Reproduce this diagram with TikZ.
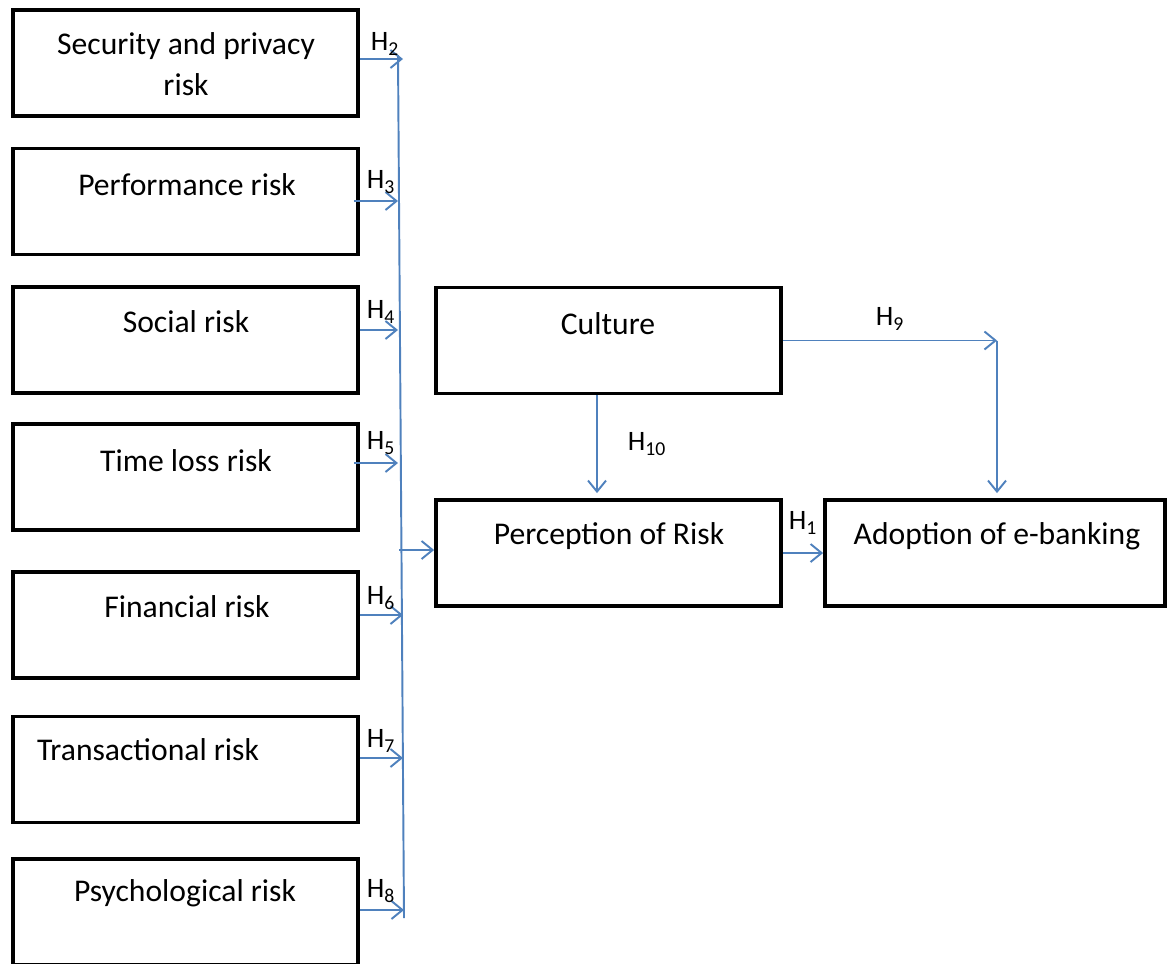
\documentclass[tikz,border=0pt]{standalone}
\usepackage{fontspec}
\setmainfont{Carlito}
\usepackage{xcolor}
\usetikzlibrary{arrows.meta}
\definecolor{linkblue}{RGB}{79,129,189}

\begin{document}
\begin{tikzpicture}[x=0.02cm, y=-0.02cm,
  box/.style={draw, line width=2.2pt, minimum width=6.9cm, minimum height=2.12cm},
  txt/.style={font=\fontsize{18}{23}\selectfont, align=center, inner sep=0pt},
  hyp/.style={font=\fontsize{16}{19}\selectfont, text=black, inner sep=0pt},
  arrow/.style={->, linkblue, line width=1.1pt, >={Straight Barb[length=2.2mm,width=3.6mm]}}
]
\useasboundingbox (0,0) rectangle (1167,964);
% risk boxes
\node[box] (sec) at (185.5,63) {};
\node[box] (perf) at (185.5,201.5) {};
\node[box] (soc) at (185.5,340) {};
\node[box] (time) at (185.5,477) {};
\node[box] (fin) at (185.5,625) {};
\node[box] (trans) at (185.5,769.5) {};
\node[box] (psy) at (185.5,912) {};
\node[txt] (secT) at (186,64) {Security and privacy\\risk};
\node[txt] (perfT) at (187,185) {Performance risk};
\node[txt] (socT) at (186,322) {Social risk};
\node[txt] (timeT) at (186,461) {Time loss risk};
\node[txt] (finT) at (187,607) {Financial risk};
\node[txt] (transT) at (148,750) {Transactional risk};
\node[txt] (psyT) at (185,893) {Psychological risk};
% central boxes
\node[box] (cult) at (608.5,340.5) {};
\node[box] (perc) at (608.5,553) {};
\node[box, minimum width=6.8cm] (adopt) at (995,553) {};
\node[txt] (cultT) at (608,324) {Culture};
\node[txt] (percT) at (609,536) {Perception of Risk};
\node[txt] (adoptT) at (997,536) {Adoption of e-banking};
% collecting line
\coordinate (bustop) at (398,55);
\coordinate (busend) at (404,918);
\coordinate (bus2) at (403,59);
\coordinate (bus3) at (398,201);
\coordinate (bus4) at (398,330);
\coordinate (bus5) at (398,463);
\coordinate (bus6) at (403,615);
\coordinate (bus7) at (403,758);
\coordinate (bus8) at (404,910);
\coordinate (busout) at (399,550);
\draw[linkblue, line width=1.1pt] (bustop) -- (busend);
\draw[arrow] (sec.east |- bus2) -- (bus2);
\draw[arrow] ([xshift=-0.12cm]perf.east |- bus3) -- (bus3);
\draw[arrow] (soc.east |- bus4) -- (bus4);
\draw[arrow] ([xshift=-0.12cm]time.east |- bus5) -- (bus5);
\draw[arrow] (fin.east |- bus6) -- (bus6);
\draw[arrow] (trans.east |- bus7) -- (bus7);
\draw[arrow] (psy.east |- bus8) -- (bus8);
\draw[arrow] (busout) -- (perc.west |- busout);
\node[hyp] (h2) at (385,44) {H\textsubscript{2}};
\node[hyp] (h3) at (381,182) {H\textsubscript{3}};
\node[hyp] (h4) at (381,312) {H\textsubscript{4}};
\node[hyp] (h5) at (381,443) {H\textsubscript{5}};
\node[hyp] (h6) at (381,598) {H\textsubscript{6}};
\node[hyp] (h7) at (381,741) {H\textsubscript{7}};
\node[hyp] (h8) at (381,891) {H\textsubscript{8}};
% culture and adoption
\coordinate (elbow) at (997,340.5);
\draw[arrow] ([xshift=-0.23cm]cult.south) -- node[hyp, right=0.6cm] (h10) {H\textsubscript{10}} ([xshift=-0.23cm,yshift=0.1cm]perc.north);
\draw[arrow] (cult.east) -- node[hyp, above=0.18cm] (h9) {H\textsubscript{9}} (elbow);
\draw[arrow] (elbow) -- ([yshift=0.1cm]adopt.north -| elbow);
\draw[arrow] (perc.east) -- node[hyp, above=0.36cm] (h1) {H\textsubscript{1}} (adopt.west);
\end{tikzpicture}
\end{document}
